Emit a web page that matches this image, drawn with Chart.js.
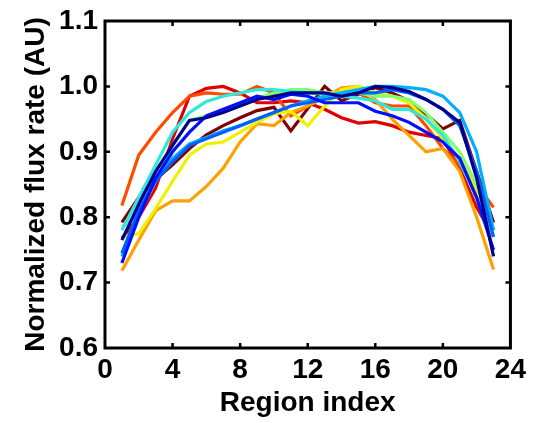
<!DOCTYPE html>
<html>
<head>
<meta charset="utf-8">
<script src="https://cdn.jsdelivr.net/npm/chart.js@4.4.1/dist/chart.umd.min.js"></script>
<style>
  html, body { margin: 0; padding: 0; background: #fff; }
  #wrap { width: 534px; height: 423px; position: relative; }
</style>
</head>
<body>
<div id="wrap"><canvas id="chart"></canvas></div>
<script>
  // Region index (x) and normalized flux rate per curve
  const regionIndex = [1,2,3,4,5,6,7,8,9,10,11,12,13,14,15,16,17,18,19,20,21,22,23];

  const fluxDarkBlue  = [0.765,0.82,0.87,0.91,0.948,0.952,0.96,0.97,0.98,0.985,0.99,0.99,0.99,0.985,0.99,1.0,0.998,0.992,0.98,0.965,0.945,0.86,0.74];
  const fluxBlue      = [0.73,0.8,0.86,0.9,0.93,0.955,0.965,0.975,0.985,0.98,0.988,0.985,0.975,0.975,0.975,0.962,0.955,0.945,0.93,0.915,0.89,0.83,0.75];
  const fluxMidBlue   = [0.745,0.81,0.855,0.885,0.91,0.92,0.93,0.94,0.95,0.96,0.97,0.975,0.98,0.985,0.99,0.99,0.995,0.99,0.98,0.965,0.94,0.87,0.77];
  const fluxLightBlue = [0.74,0.81,0.86,0.89,0.912,0.922,0.932,0.94,0.95,0.96,0.97,0.978,0.985,0.99,0.995,1.0,1.0,0.998,0.995,0.985,0.96,0.9,0.78];
  const fluxCyan      = [0.78,0.83,0.88,0.93,0.96,0.977,0.985,0.99,0.995,0.995,0.992,0.99,0.988,0.985,0.982,0.978,0.965,0.965,0.95,0.925,0.885,0.83,0.77];
  const fluxGreen     = [0.785,0.805,0.855,0.91,0.948,0.955,0.963,0.972,0.982,0.99,0.995,0.995,0.99,0.99,0.99,0.985,0.985,0.98,0.96,0.93,0.9,0.85,0.78];
  const fluxYellow    = [0.77,0.775,0.813,0.855,0.895,0.912,0.915,0.93,0.945,0.958,0.962,0.94,0.97,0.995,1.0,0.99,0.985,0.975,0.95,0.92,0.89,0.84,0.77];
  const fluxOrange    = [0.718,0.765,0.81,0.825,0.825,0.847,0.875,0.915,0.943,0.94,0.96,0.97,0.983,0.998,1.0,0.98,0.95,0.925,0.9,0.905,0.87,0.8,0.72];
  const fluxOrangeRed = [0.818,0.895,0.93,0.96,0.985,0.99,0.988,0.988,1.0,0.99,0.955,0.97,0.985,0.995,0.99,0.975,0.97,0.97,0.94,0.905,0.88,0.85,0.815];
  const fluxRed       = [0.768,0.8,0.845,0.92,0.985,0.997,1.0,0.99,0.975,0.975,0.978,0.975,0.965,0.952,0.944,0.946,0.94,0.93,0.925,0.92,0.875,0.815,0.77];
  const fluxMaroon    = [0.792,0.83,0.858,0.88,0.905,0.926,0.94,0.952,0.963,0.968,0.932,0.966,1.0,0.978,0.988,0.998,0.99,0.978,0.958,0.935,0.948,0.87,0.792];

  const seriesList   = [fluxDarkBlue, fluxBlue, fluxMidBlue, fluxLightBlue, fluxCyan, fluxGreen, fluxYellow, fluxOrange, fluxOrangeRed, fluxRed, fluxMaroon];
  const seriesColors = ['#00008f','#0010ff','#0060ff','#00b0ff','#30e8d8','#80ff70','#f0f000','#ffa000','#ff4a00','#e00000','#800000'];

  const xTicks = [0,4,8,12,16,20,24];
  const yTicks = [0.6,0.7,0.8,0.9,1.0,1.1];

  const FONT = '"Liberation Sans", Arial, Helvetica, sans-serif';

  // MATLAB-like box with ticks pointing inward on all four sides
  const boxPlugin = {
    id: 'box',
    afterDraw(chart){
      const {ctx, chartArea: a, scales: {x, y}} = chart;
      ctx.save();
      ctx.strokeStyle = '#000'; ctx.lineWidth = 3;
      ctx.strokeRect(a.left, a.top, a.right - a.left, a.bottom - a.top);
      ctx.lineWidth = 2.5;
      const len = 5;
      xTicks.slice(1, -1).forEach(v=>{
        const px = x.getPixelForValue(v);
        ctx.beginPath();
        ctx.moveTo(px, a.bottom); ctx.lineTo(px, a.bottom - len);
        ctx.moveTo(px, a.top); ctx.lineTo(px, a.top + len);
        ctx.stroke();
      });
      yTicks.slice(1, -1).forEach(v=>{
        const py = y.getPixelForValue(v);
        ctx.beginPath();
        ctx.moveTo(a.left, py); ctx.lineTo(a.left + len, py);
        ctx.moveTo(a.right, py); ctx.lineTo(a.right - len, py);
        ctx.stroke();
      });
      ctx.restore();
    }
  };

  new Chart(document.getElementById('chart'), {
    type: 'line',
    data: {
      datasets: seriesList.map((vals, i)=>({
        data: regionIndex.map((r, j)=>({ x: r, y: vals[j] })),
        borderColor: seriesColors[i],
        borderWidth: 3.2,
        pointRadius: 0,
        tension: 0,
        fill: false
      }))
    },
    options: {
      responsive: true,
      maintainAspectRatio: false,
      animation: false,
      layout: { padding: { top: 17, right: 19, left: 0, bottom: 0 } },
      plugins: { legend: { display: false }, tooltip: { enabled: false } },
      scales: {
        x: {
          type: 'linear', min: 0, max: 24,
          afterBuildTicks: s=>{ s.ticks = xTicks.map(v=>({ value: v })); },
          afterFit: s=>{ s.height = 75; },
          grid: { display: false, drawTicks: false },
          border: { display: false },
          ticks: { color: '#000', padding: 8, maxRotation: 0, font: { family: FONT, size: 28, weight: 'bold', lineHeight: 1 } },
          title: { display: true, text: 'Region index', color: '#000', padding: { top: 0, bottom: 3 },
                   font: { family: FONT, size: 28, weight: 'bold' } }
        },
        y: {
          type: 'linear', min: 0.6, max: 1.1,
          afterBuildTicks: s=>{ s.ticks = yTicks.map(v=>({ value: v })); },
          afterFit: s=>{ s.width = 105; },
          grid: { display: false, drawTicks: false },
          border: { display: false },
          ticks: { color: '#000', padding: 7, callback: v=>v.toFixed(1),
                   font: { family: FONT, size: 28, weight: 'bold', lineHeight: 1 } },
          title: { display: true, text: 'Normalized flux rate (AU)', color: '#000', padding: { top: 19, bottom: 0 },
                   font: { family: FONT, size: 28, weight: 'bold' } }
        }
      }
    },
    plugins: [boxPlugin]
  });
</script>
</body>
</html>
